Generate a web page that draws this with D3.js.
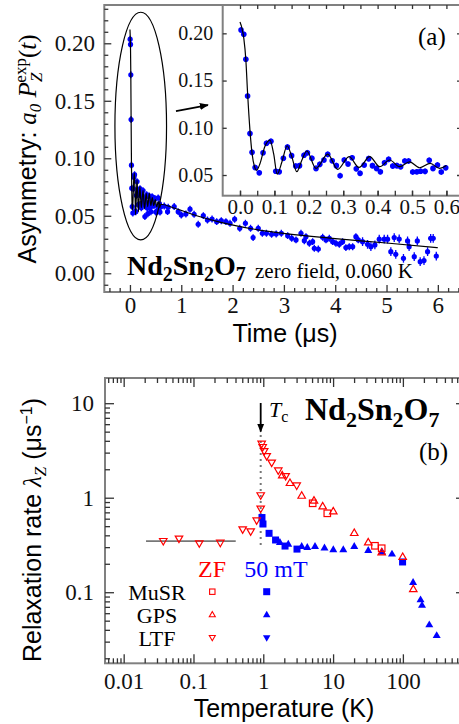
<!DOCTYPE html>
<html>
<head>
<meta charset="utf-8">
<script src="https://cdn.jsdelivr.net/npm/d3@7"></script>
<style>body{margin:0;background:#fff}</style>
</head>
<body>
<svg id="fig"></svg>
<script>
// ---------- panel (a): ZF asymmetry, [t (us), asymmetry] ----------
const earlyData = [[0.003,0.2036],[0.011,0.199],[0.017,0.1726],[0.022,0.1337],[0.029,0.094],[0.035,0.074],
  [0.044,0.058],[0.056,0.0524],[0.067,0.0736],[0.077,0.0836],[0.090,0.0857],[0.104,0.054],[0.114,0.0535],
  [0.126,0.0677],[0.138,0.0797],[0.150,0.0705],[0.162,0.0595],[0.173,0.0599],[0.186,0.0709],[0.196,0.0736],
  [0.209,0.0677],[0.221,0.057],[0.232,0.0613],[0.244,0.0659],[0.255,0.0719],[0.268,0.0651],[0.280,0.0599],
  [0.291,0.0493],[0.303,0.0659],[0.314,0.0617],[0.326,0.0683],[0.338,0.0567],[0.349,0.0518],[0.361,0.0606],
  [0.374,0.0673],[0.385,0.0599],[0.397,0.057],[0.408,0.0535],[0.420,0.063],[0.432,0.0666],[0.444,0.0595],
  [0.456,0.0599],[0.467,0.0588],[0.479,0.0648],[0.490,0.0648],[0.502,0.0532],[0.514,0.0535],[0.525,0.054],
  [0.538,0.0539],[0.550,0.0656],[0.561,0.057],[0.574,0.0606],[0.585,0.0532],[0.598,0.0577]];

const lateData = [[0.668,0.0585],[0.733,0.0536],[0.745,0.0574],[0.862,0.058],[0.94,0.0536],[1.0,0.0507],
  [1.09,0.0516],[1.17,0.0557],[1.25,0.0513],[1.33,0.0426],[1.43,0.0501],[1.51,0.0463],[1.60,0.0472],
  [1.69,0.0449],[1.78,0.0457],[1.87,0.0449],[1.95,0.0435],[2.04,0.047],[2.14,0.0391],[2.25,0.0435],
  [2.35,0.0391],[2.40,0.031],[2.50,0.0391],[2.58,0.0348],[2.66,0.0348],[2.76,0.0339],[2.85,0.0342],
  [2.95,0.0348],[3.074,0.0327],[3.152,0.0304],[3.236,0.029],[3.333,0.0348],[3.398,0.0283],[3.43,0.0318],
  [3.496,0.0261],[3.56,0.0275],[3.593,0.0217],[3.671,0.0211],[3.755,0.0313],[3.82,0.029],[3.885,0.0304],
  [3.95,0.0275],[4.014,0.0261],[4.08,0.0252],[4.144,0.0275],[4.208,0.0223],[4.274,0.0231],[4.34,0.0231],
  [4.403,0.0318],[4.45,0.029],[4.533,0.0275],[4.63,0.0252],[4.695,0.0231],[4.773,0.0246],[4.858,0.0296],
  [4.955,0.0296],[5.02,0.0296],[5.084,0.0188],[5.15,0.031],[5.18,0.0165],[5.247,0.0298],[5.33,0.013],
  [5.41,0.0281],[5.44,0.0231],[5.54,0.0144],[5.60,0.0281],[5.656,0.0101],[5.73,0.011],[5.80,0.0188],
  [5.86,0.0304],[5.91,0.0304],[5.97,0.015]];

// fit curve
const fitEarly = [[0,0.212],[0.006,0.205],[0.011,0.195],[0.017,0.172],[0.022,0.137],[0.029,0.097],
  [0.035,0.073],[0.042,0.059],[0.048,0.055],[0.058,0.062],[0.072,0.08],[0.087,0.087],[0.098,0.072],
  [0.108,0.051],[0.122,0.064],[0.137,0.081],[0.150,0.07],[0.165,0.0535],[0.18,0.066],[0.194,0.0754],
  [0.221,0.057],[0.255,0.0722],[0.284,0.056],[0.317,0.0694],[0.346,0.058],[0.377,0.0694],[0.406,0.0588],
  [0.435,0.0659],[0.464,0.0588],[0.493,0.064],[0.522,0.0577],[0.553,0.0624],[0.58,0.057],[0.6,0.06]];
const fitLate = [[0.875,0.0565],[1.3,0.050],[1.75,0.0445],[2.4,0.0385],[3.07,0.0342],[4.0,0.0302],
  [5.0,0.0263],[6.0,0.0222]];

// error bar half-lengths by time range [from t, err]
const errBands = [[0,0.003],[4.5,0.0038]];

const xTicksA = [0,1,2,3,4,5,6];
const yTicksA = [0,0.05,0.10,0.15,0.20];
const xTicksInset = [0,0.1,0.2,0.3,0.4,0.5,0.6];
const yTicksInset = [0.05,0.10,0.15,0.20];

// ---------- panel (b): relaxation rate, [T (K), lambda (1/us)] ----------
const ltfZF = [[0.0369,0.351],[0.062,0.372],[0.121,0.332],[0.242,0.337],[0.507,0.466],[0.66,0.444],
  [0.804,0.581],[0.918,0.773],[0.918,1.07],[0.948,3.76],[0.98,3.47],[1.03,3.14],[1.12,2.78],[1.32,2.37],
  [1.64,1.96],[2.09,1.71],[3.01,1.36]];
const gpsZF = [[1.87,1.71],[2.41,1.42],[3.55,1.04],[5.33,0.923],[7.10,0.803],[10.07,0.711],[20.1,0.420],
  [31.9,0.334],[49.7,0.262],[99.3,0.234],[141,0.107]];
const musrZF = [[5.10,0.873],[8.26,0.684],[39.8,0.310],[49.7,0.292]];
const musr50 = [[0.958,0.617],[0.99,0.527],[1.21,0.420],[1.50,0.357],[2.05,0.308],[3.04,0.286],[99,0.209]];
const gps50 = [[1.73,0.334],[2.28,0.321],[3.55,0.303],[4.27,0.296],[5.51,0.303],[7.53,0.292],[10.07,0.280],
  [14.0,0.280],[20.1,0.303],[31.9,0.275],[50.2,0.266],[69.8,0.252],[140,0.126],[179,0.0827],[188,0.0723],
  [239,0.045],[305,0.0346]];
const lowTfit = {from: 0.0209, to: 0.403, value: 0.348};
const Tc = 0.918;

const xTicksB = [0.01,0.1,1,10,100];
const yTicksB = [0.1,1,10];

// ---------------------------------------------------------------
const W = 459, H = 724;
const serif = "Liberation Serif", sans = "Liberation Sans";
const RED = "#ff0000", BLUE = "#0000ff", FRAME = "#808080", TICK = "#333";

const svg = d3.select("#fig").attr("width", W).attr("height", H);
svg.append("rect").attr("width", W).attr("height", H).attr("fill", "#fff");

function styleAxis(g, size) {
  g.select(".domain").remove();
  g.attr("color", TICK).attr("font-family", serif).attr("font-size", size);
  g.selectAll(".tick line").attr("stroke-width", 1.3);
  g.selectAll("text").attr("fill", "#111");
}

function addAxis(axis, tx, ty, size) {
  return svg.append("g").attr("transform", `translate(${tx},${ty})`)
    .call(axis).call(g => styleAxis(g, size));
}

function sub(text, parts, small, shift) {
  // parts: [str, kind] kind: "n" normal, "s" subscript
  let prev = 0;
  parts.forEach(([s, k]) => {
    const d = k === "s" ? shift : 0;
    text.append("tspan").attr("dy", d - prev)
      .attr("font-size", k === "s" ? small : null).text(s);
    prev = d;
  });
}

function triPath(cx, cy, s, up) {
  const h = s * 0.866, dir = up ? 1 : -1;
  return `M${cx},${cy - dir * h * 2 / 3}L${cx - s / 2},${cy + dir * h / 3}L${cx + s / 2},${cy + dir * h / 3}Z`;
}

// ================= panel (a) =================
const A = {l: 104.3, r: 463.5, t: 5, b: 292};
const x = d3.scaleLinear().domain([-0.5, 6.5]).range([A.l, A.r]);
const y = d3.scaleLinear().domain([-0.0163, 0.2333]).range([A.b, A.t]);

svg.append("clipPath").attr("id", "clipA").append("rect")
  .attr("x", A.l).attr("y", A.t).attr("width", A.r - A.l).attr("height", A.b - A.t);

const errOf = t => errBands.filter(b => t >= b[0]).pop()[1];

const gA = svg.append("g").attr("clip-path", "url(#clipA)");
const allA = earlyData.concat(lateData);
gA.selectAll("line.err").data(allA).join("line")
  .attr("x1", d => x(d[0])).attr("x2", d => x(d[0]))
  .attr("y1", d => y(d[1] - errOf(d[0]))).attr("y2", d => y(d[1] + errOf(d[0])))
  .attr("stroke", BLUE).attr("stroke-width", 1.3);
gA.selectAll("circle").data(allA).join("circle")
  .attr("cx", d => x(d[0])).attr("cy", d => y(d[1])).attr("r", 2.6).attr("fill", BLUE);

const lineA = d3.line().x(d => x(d[0])).y(d => y(d[1])).curve(d3.curveMonotoneX);
gA.append("path").datum(fitEarly.concat(fitLate)).attr("d", lineA)
  .attr("fill", "none").attr("stroke", "#000").attr("stroke-width", 1.2);

// ellipse around the early-time data + arrow to inset
const ell = {t: 0.21, v: 0.128, dt: 0.503, dv: 0.099};
svg.append("ellipse").attr("cx", x(ell.t)).attr("cy", y(ell.v))
  .attr("rx", x(ell.t + ell.dt) - x(ell.t)).attr("ry", y(ell.v - ell.dv) - y(ell.v))
  .attr("fill", "none").attr("stroke", "#000").attr("stroke-width", 1.2);

const defs = svg.append("defs");
defs.append("marker").attr("id", "head").attr("viewBox", "0 0 10 10").attr("refX", 9).attr("refY", 5)
  .attr("markerWidth", 9).attr("markerHeight", 9).attr("markerUnits", "userSpaceOnUse").attr("orient", "auto")
  .append("path").attr("d", "M0,1L10,5L0,9Z").attr("fill", "#000");

const arrowA = [[0.897, 0.141], [1.52, 0.1463]];
svg.append("line").attr("x1", x(arrowA[0][0])).attr("y1", y(arrowA[0][1]))
  .attr("x2", x(arrowA[1][0])).attr("y2", y(arrowA[1][1]))
  .attr("stroke", "#000").attr("stroke-width", 1.8).attr("marker-end", "url(#head)");

svg.append("rect").attr("x", A.l).attr("y", A.t).attr("width", A.r - A.l).attr("height", A.b - A.t)
  .attr("fill", "none").attr("stroke", FRAME).attr("stroke-width", 2);

const minorX = d3.range(-2, 33).map(i => i * 0.2).filter(v => Math.abs(v - Math.round(v)) > 1e-6);
const minorY = d3.range(-1, 24).map(i => i * 0.01).filter(v => Math.abs(v * 20 - Math.round(v * 20)) > 1e-6);

addAxis(d3.axisBottom(x).tickValues(minorX).tickSize(-4).tickFormat(""), 0, A.b, 23);
addAxis(d3.axisBottom(x).tickValues(xTicksA).tickSize(-7).tickPadding(4.7).tickFormat(d3.format("d")), 0, A.b, 23);
addAxis(d3.axisLeft(y).tickValues(minorY).tickSize(-4).tickFormat(""), A.l, 0, 23);
addAxis(d3.axisLeft(y).tickValues(yTicksA).tickSize(-7).tickPadding(9.3).tickFormat(d3.format(".2f")), A.l, 0, 23);

// inset
const I = {l: 222.7, r: 461, t: 5, b: 195.7};
const xi = d3.scaleLinear().domain([-0.0503, 0.6424]).range([I.l, I.r]);
const yi = d3.scaleLinear().domain([0.0281, 0.23]).range([I.b, I.t]);
svg.append("rect").attr("x", I.l).attr("y", I.t).attr("width", I.r - I.l).attr("height", I.b - I.t)
  .attr("fill", "#fff");
const gI = svg.append("g");
gI.selectAll("line").data(earlyData).join("line")
  .attr("x1", d => xi(d[0])).attr("x2", d => xi(d[0]))
  .attr("y1", d => yi(d[1] - 0.003)).attr("y2", d => yi(d[1] + 0.003))
  .attr("stroke", BLUE).attr("stroke-width", 1.3);
gI.selectAll("circle").data(earlyData).join("circle")
  .attr("cx", d => xi(d[0])).attr("cy", d => yi(d[1])).attr("r", 2.8).attr("fill", BLUE);
gI.append("path").datum(fitEarly)
  .attr("d", d3.line().x(d => xi(d[0])).y(d => yi(d[1])).curve(d3.curveMonotoneX))
  .attr("fill", "none").attr("stroke", "#000").attr("stroke-width", 1.2);
svg.append("rect").attr("x", I.l).attr("y", I.t).attr("width", I.r - I.l).attr("height", I.b - I.t)
  .attr("fill", "none").attr("stroke", FRAME).attr("stroke-width", 2);

const insetMinor = d3.range(0, 13).map(i => i * 0.05);
addAxis(d3.axisBottom(xi).tickValues(insetMinor).tickSize(-5).tickFormat(""), 0, I.b, 21);
addAxis(d3.axisTop(xi).tickValues(insetMinor).tickSize(-4).tickFormat(""), 0, I.t, 21);
addAxis(d3.axisBottom(xi).tickValues(xTicksInset).tickSize(-5).tickPadding(3).tickFormat(d3.format(".1f")), 0, I.b, 21);
addAxis(d3.axisLeft(yi).tickValues(yTicksInset).tickSize(-4).tickPadding(9.4).tickFormat(d3.format(".2f")), I.l, 0, 20);
addAxis(d3.axisRight(yi).tickValues(yTicksInset).tickSize(-4).tickFormat(""), I.r, 0, 20);

svg.append("text").attr("x", 418).attr("y", 45).attr("font-family", serif).attr("font-size", 25).text("(a)");

// labels panel (a)
const ndA = svg.append("text").attr("x", 127).attr("y", 275).attr("font-family", serif)
  .attr("font-weight", "bold").attr("font-size", 28);
sub(ndA, [["Nd","n"],["2","s"],["Sn","n"],["2","s"],["O","n"],["7","s"]], 20, 6);
svg.append("text").attr("x", 255).attr("y", 278).attr("font-family", serif).attr("font-size", 21)
  .text("zero field, 0.060 K");

svg.append("text").attr("x", 285).attr("y", 342).attr("text-anchor", "middle")
  .attr("font-family", sans).attr("font-size", 25).text("Time (μs)");

const yl = svg.append("text").attr("transform", "translate(36,149) rotate(-90)").attr("text-anchor", "middle")
  .attr("font-family", sans).attr("font-size", 25);
yl.append("tspan").text("Asymmetry: ");
yl.append("tspan").attr("font-family", serif).attr("font-style", "italic").text("a");
yl.append("tspan").attr("font-family", serif).attr("font-style", "italic").attr("font-size", 17).attr("dy", 5).text("0");
yl.append("tspan").attr("font-family", serif).attr("font-style", "italic").attr("dy", -5).text(" P");
yl.append("tspan").attr("font-family", serif).attr("font-style", "italic").attr("font-size", 17).attr("dy", 6).text("Z");
yl.append("tspan").attr("font-family", serif).attr("font-size", 17).attr("dx", -10).attr("dy", -16).text("exp");
yl.append("tspan").attr("font-family", serif).attr("dy", 10).text("(");
yl.append("tspan").attr("font-family", serif).attr("font-style", "italic").text("t");
yl.append("tspan").attr("font-family", serif).text(")");

// ================= panel (b) =================
const B = {l: 105, r: 465, t: 378, b: 663.3};
const xb = d3.scaleLog().domain([0.0054, 776]).range([B.l, B.r]);
const yb = d3.scaleLog().domain([0.0177, 18.48]).range([B.b, B.t]);

svg.append("clipPath").attr("id", "clipB").append("rect")
  .attr("x", B.l).attr("y", B.t).attr("width", B.r - B.l).attr("height", B.b - B.t);
const gB = svg.append("g").attr("clip-path", "url(#clipB)");

// low-T average line and Tc marker
gB.append("line").attr("x1", xb(lowTfit.from)).attr("x2", xb(lowTfit.to))
  .attr("y1", yb(lowTfit.value)).attr("y2", yb(lowTfit.value))
  .attr("stroke", "#777").attr("stroke-width", 1.8);
gB.append("line").attr("x1", xb(Tc)).attr("x2", xb(Tc)).attr("y1", yb(4.6)).attr("y2", yb(0.30))
  .attr("stroke", "#777").attr("stroke-width", 2).attr("stroke-dasharray", "2,4");
svg.append("line").attr("x1", xb(Tc)).attr("x2", xb(Tc)).attr("y1", yb(10.05)).attr("y2", yb(5.0))
  .attr("stroke", "#000").attr("stroke-width", 1.8).attr("marker-end", "url(#head)");

const sq = (g, data, s, fill, stroke) => g.selectAll(null).data(data).join("rect")
  .attr("x", d => xb(d[0]) - s / 2).attr("y", d => yb(d[1]) - s / 2).attr("width", s).attr("height", s)
  .attr("fill", fill).attr("stroke", stroke).attr("stroke-width", 1.2);
const tri = (g, data, s, up, fill, stroke) => g.selectAll(null).data(data).join("path")
  .attr("d", d => triPath(xb(d[0]), yb(d[1]), s, up))
  .attr("fill", fill).attr("stroke", stroke).attr("stroke-width", 1.2);

sq(gB, musr50, 7, BLUE, "none");
tri(gB, gps50, 8, true, BLUE, "none");
tri(gB, ltfZF, 7.5, false, "none", RED);
tri(gB, gpsZF, 7.5, true, "none", RED);
sq(gB, musrZF, 6.5, "none", RED);

svg.append("rect").attr("x", B.l).attr("y", B.t).attr("width", B.r - B.l).attr("height", B.b - B.t)
  .attr("fill", "none").attr("stroke", FRAME).attr("stroke-width", 2);

const isDecade = v => Math.abs(Math.log10(v) - Math.round(Math.log10(v))) < 1e-6;
const minorXB = xb.ticks().filter(v => !isDecade(v));
const minorYB = yb.ticks().filter(v => !isDecade(v));
const logFmt = d3.format("~g");

addAxis(d3.axisBottom(xb).tickValues(minorXB).tickSize(-5).tickFormat(""), 0, B.b, 23);
addAxis(d3.axisBottom(xb).tickValues(xTicksB).tickSize(-9).tickPadding(9).tickFormat(logFmt), 0, B.b, 23);
addAxis(d3.axisTop(xb).tickValues(minorXB).tickSize(-5).tickFormat(""), 0, B.t, 23);
addAxis(d3.axisTop(xb).tickValues(xTicksB).tickSize(-9).tickFormat(""), 0, B.t, 23);
addAxis(d3.axisLeft(yb).tickValues(minorYB).tickSize(-5).tickFormat(""), B.l, 0, 23);
addAxis(d3.axisLeft(yb).tickValues(yTicksB).tickSize(-9).tickPadding(11).tickFormat(logFmt), B.l, 0, 23);
addAxis(d3.axisRight(yb).tickValues(minorYB).tickSize(-5).tickFormat(""), B.r, 0, 23);
addAxis(d3.axisRight(yb).tickValues(yTicksB).tickSize(-9).tickFormat(""), B.r, 0, 23);

// annotations panel (b)
const tcT = svg.append("text").attr("x", 269).attr("y", 417).attr("font-family", serif).attr("font-size", 22);
tcT.append("tspan").attr("font-style", "italic").text("T");
tcT.append("tspan").attr("font-size", 16).attr("dy", 5).text("c");

const ndB = svg.append("text").attr("x", 305).attr("y", 420).attr("font-family", serif)
  .attr("font-weight", "bold").attr("font-size", 32);
sub(ndB, [["Nd","n"],["2","s"],["Sn","n"],["2","s"],["O","n"],["7","s"]], 22, 7);
svg.append("text").attr("x", 419).attr("y", 460).attr("font-family", serif).attr("font-size", 25).text("(b)");

// legend
const legRows = ["MuSR", "GPS", "LTF"];
const legY = [600, 623, 646];
svg.append("text").attr("x", 212).attr("y", 577).attr("text-anchor", "middle").attr("font-family", serif)
  .attr("font-size", 24).attr("fill", RED).text("ZF");
svg.append("text").attr("x", 276).attr("y", 577).attr("text-anchor", "middle").attr("font-family", serif)
  .attr("font-size", 24).attr("fill", BLUE).text("50 mT");
legRows.forEach((r, i) => {
  svg.append("text").attr("x", 157).attr("y", legY[i]).attr("text-anchor", "middle")
    .attr("font-family", serif).attr("font-size", 22).text(r);
});
const mx1 = 212.3, mx2 = 266.7, my = [591.7, 615, 637.3];
svg.append("rect").attr("x", mx1 - 2.7).attr("y", my[0] - 2.7).attr("width", 5.4).attr("height", 5.4)
  .attr("fill", "none").attr("stroke", RED).attr("stroke-width", 1.1);
svg.append("path").attr("d", triPath(mx1, my[1], 6, true)).attr("fill", "none").attr("stroke", RED).attr("stroke-width", 1.1);
svg.append("path").attr("d", triPath(mx1, my[2], 6, false)).attr("fill", "none").attr("stroke", RED).attr("stroke-width", 1.1);
svg.append("rect").attr("x", mx2 - 3.5).attr("y", my[0] - 3.5).attr("width", 7).attr("height", 7).attr("fill", BLUE);
svg.append("path").attr("d", triPath(mx2, my[1], 7.5, true)).attr("fill", BLUE);
svg.append("path").attr("d", triPath(mx2, my[2], 7.5, false)).attr("fill", BLUE);

svg.append("text").attr("x", 284).attr("y", 717).attr("text-anchor", "middle")
  .attr("font-family", sans).attr("font-size", 25).text("Temperature (K)");

const yl2 = svg.append("text").attr("transform", "translate(41,530) rotate(-90)").attr("text-anchor", "middle")
  .attr("font-family", sans).attr("font-size", 25);
yl2.append("tspan").text("Relaxation rate ");
yl2.append("tspan").attr("font-family", serif).attr("font-style", "italic").text("λ");
yl2.append("tspan").attr("font-family", serif).attr("font-style", "italic").attr("font-size", 17).attr("dy", 5).text("Z");
yl2.append("tspan").attr("dy", -5).text(" (μs");
yl2.append("tspan").attr("font-size", 16).attr("dy", -9).text("−1");
yl2.append("tspan").attr("dy", 9).text(")");
</script>
</body>
</html>
